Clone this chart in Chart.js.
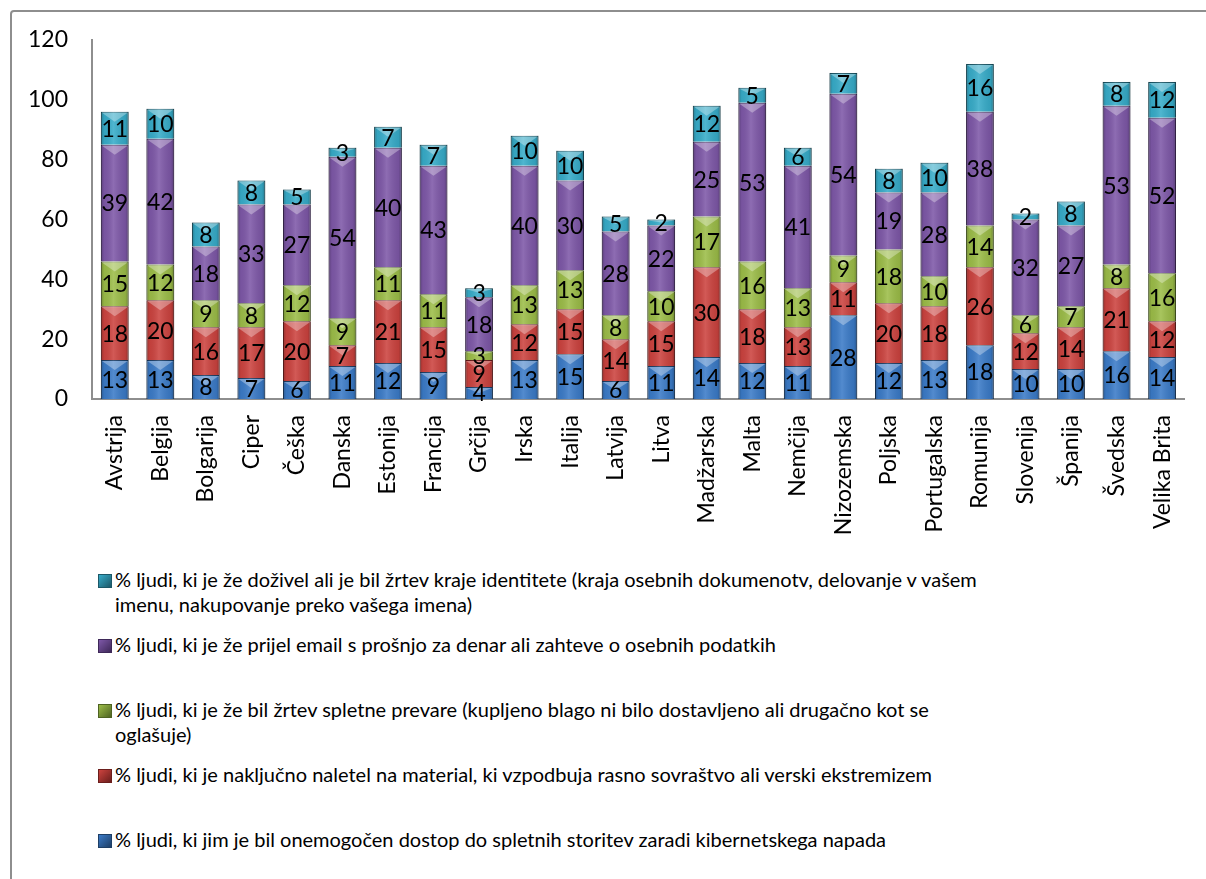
<!DOCTYPE html>
<html>
  <head>
    <title>Spletna varnost po državah</title>
    <script src="https://cdn.jsdelivr.net/npm/chart.js"></script>
    <style>
      body {
        margin: 0;
        background: #fff;
        overflow: hidden;
        font-family: Lato, "Open Sans", sans-serif;
      }
      .frame {
        position: absolute;
        left: 10px;
        top: 10px;
        width: 1400px;
        height: 1000px;
        border: 2px solid #8e8e8e;
        border-radius: 4px;
      }
      #chartBox {
        position: absolute;
        left: 0;
        top: 0;
      }
      .legend {
        position: absolute;
        left: 98px;
        top: 567px;
        font-size: 20px;
        color: #000;
      }
      .legend .row {
        position: relative;
        height: 65px;
        line-height: 25px;
        padding-left: 17px;
        white-space: nowrap;
      }
      .legend .box {
        position: absolute;
        left: 0;
        top: 7px;
        width: 12px;
        height: 12px;
      }
    </style>
  </head>
  <body>
    <div class="frame"></div>
    <div id="chartBox">
      <canvas id="stackChart" width="1206" height="560"></canvas>
    </div>
    <div class="legend" id="legend"></div>

    <script>
      // categories and series (bottom to top of each bar)
      const countries = [
        "Avstrija", "Belgija", "Bolgarija", "Ciper", "Češka", "Danska",
        "Estonija", "Francija", "Grčija", "Irska", "Italija", "Latvija",
        "Litva", "Madžarska", "Malta", "Nemčija", "Nizozemska", "Poljska",
        "Portugalska", "Romunija", "Slovenija", "Španija", "Švedska",
        "Velika Brita",
      ];
      const dostop = [13, 13, 8, 7, 6, 11, 12, 9, 4, 13, 15, 6, 11, 14, 12, 11, 28, 12, 13, 18, 10, 10, 16, 14];
      const material = [18, 20, 16, 17, 20, 7, 21, 15, 9, 12, 15, 14, 15, 30, 18, 13, 11, 20, 18, 26, 12, 14, 21, 12];
      const prevare = [15, 12, 9, 8, 12, 9, 11, 11, 3, 13, 13, 8, 10, 17, 16, 13, 9, 18, 10, 14, 6, 7, 8, 16];
      const email = [39, 42, 18, 33, 27, 54, 40, 43, 18, 40, 30, 28, 22, 25, 53, 41, 54, 19, 28, 38, 32, 27, 53, 52];
      const identiteta = [11, 10, 8, 8, 5, 3, 7, 7, 3, 10, 10, 5, 2, 12, 5, 6, 7, 8, 10, 16, 2, 8, 8, 12];

      const seriesNames = [
        "% ljudi, ki jim je bil onemogočen dostop do spletnih storitev zaradi kibernetskega napada",
        "% ljudi, ki je naključno naletel na material, ki vzpodbuja rasno sovraštvo ali verski ekstremizem",
        "% ljudi, ki je že bil žrtev spletne prevare (kupljeno blago ni bilo dostavljeno ali drugačno kot se<br>oglašuje)",
        "% ljudi, ki je že prijel email s prošnjo za denar ali zahteve o osebnih podatkih",
        "% ljudi, ki je že doživel ali je bil žrtev kraje identitete (kraja osebnih dokumenotv, delovanje v vašem<br>imenu, nakupovanje preko vašega imena)",
      ];
      const seriesColors = ["#3b7bc8", "#cc433f", "#9cbd48", "#7e58a8", "#37acc9"];
      const seriesBorders = ["#1e3f66", "#6b1e1c", "#4e6322", "#3e2858", "#1c5868"];

      const FONT = "Lato, 'Open Sans', sans-serif";

      // bevel shading + value labels on each segment
      const bevelPlugin = {
        id: "bevel",
        afterDatasetsDraw(chart) {
          const ctx = chart.ctx;
          chart.data.datasets.forEach((ds, i) => {
            const meta = chart.getDatasetMeta(i);
            meta.data.forEach((bar) => {
              const left = bar.x - bar.width / 2;
              const top = Math.min(bar.y, bar.base);
              const h = Math.abs(bar.base - bar.y);
              const w = bar.width;
              ctx.save();
              const g = ctx.createLinearGradient(left, 0, left + w, 0);
              g.addColorStop(0, "rgba(0,0,0,0.28)");
              g.addColorStop(0.12, "rgba(0,0,0,0.05)");
              g.addColorStop(0.45, "rgba(255,255,255,0.12)");
              g.addColorStop(0.88, "rgba(0,0,0,0.08)");
              g.addColorStop(1, "rgba(0,0,0,0.3)");
              ctx.fillStyle = g;
              ctx.fillRect(left, top, w, h);
              // light top band with downward triangle
              const th = Math.min(10, h / 2);
              ctx.fillStyle = "rgba(255,255,255,0.32)";
              ctx.beginPath();
              ctx.moveTo(left + 1, top + 1);
              ctx.lineTo(left + w - 1, top + 1);
              ctx.lineTo(bar.x, top + th);
              ctx.closePath();
              ctx.fill();
              ctx.restore();
            });
          });
          ctx.save();
          ctx.fillStyle = "#000";
          ctx.font = "23px " + FONT;
          ctx.textAlign = "center";
          ctx.textBaseline = "middle";
          chart.data.datasets.forEach((ds, i) => {
            const meta = chart.getDatasetMeta(i);
            meta.data.forEach((bar, j) => {
              ctx.fillText(String(ds.data[j]), bar.x, (bar.y + bar.base) / 2 + 1);
            });
          });
          ctx.restore();
        },
      };

      const values = [dostop, material, prevare, email, identiteta];
      const datasets = values.map((v, i) => ({
        label: seriesNames[i].replace("<br>", " "),
        data: v,
        backgroundColor: seriesColors[i],
        borderColor: seriesBorders[i],
        borderWidth: 1,
        barPercentage: 0.61,
        categoryPercentage: 1,
      }));

      const stackChart = new Chart(document.getElementById("stackChart"), {
        type: "bar",
        data: { labels: countries, datasets },
        plugins: [bevelPlugin],
        options: {
          responsive: false,
          animation: false,
          devicePixelRatio: 1,
          layout: { padding: { top: 40, right: 15, left: 0, bottom: 0 } },
          plugins: {
            legend: { display: false },
            tooltip: { enabled: false },
          },
          scales: {
            x: {
              stacked: true,
              grid: { display: false, drawTicks: false },
              border: { color: "#8e8e8e", width: 2 },
              ticks: {
                color: "#000",
                font: { family: FONT, size: 23 },
                maxRotation: 90,
                minRotation: 90,
                padding: 16,
                autoSkip: false,
              },
              afterFit(scale) {
                scale.height = 161;
              },
            },
            y: {
              stacked: true,
              min: 0,
              max: 120,
              grid: { display: false, drawTicks: false },
              border: { color: "#8e8e8e", width: 2 },
              ticks: {
                stepSize: 20,
                color: "#000",
                font: { family: FONT, size: 23 },
                padding: 24,
              },
              afterFit(scale) {
                scale.width = 92;
              },
            },
          },
        },
      });

      // legend, top series first as in the original
      const legendEl = document.getElementById("legend");
      for (let i = seriesNames.length - 1; i >= 0; i--) {
        const row = document.createElement("div");
        row.className = "row";
        row.innerHTML =
          '<span class="box" style="background:linear-gradient(135deg,' +
          seriesColors[i] + "," + seriesBorders[i] + ");border:1px solid " +
          seriesBorders[i] + '"></span>' + seriesNames[i];
        legendEl.appendChild(row);
      }
    </script>
  </body>
</html>
